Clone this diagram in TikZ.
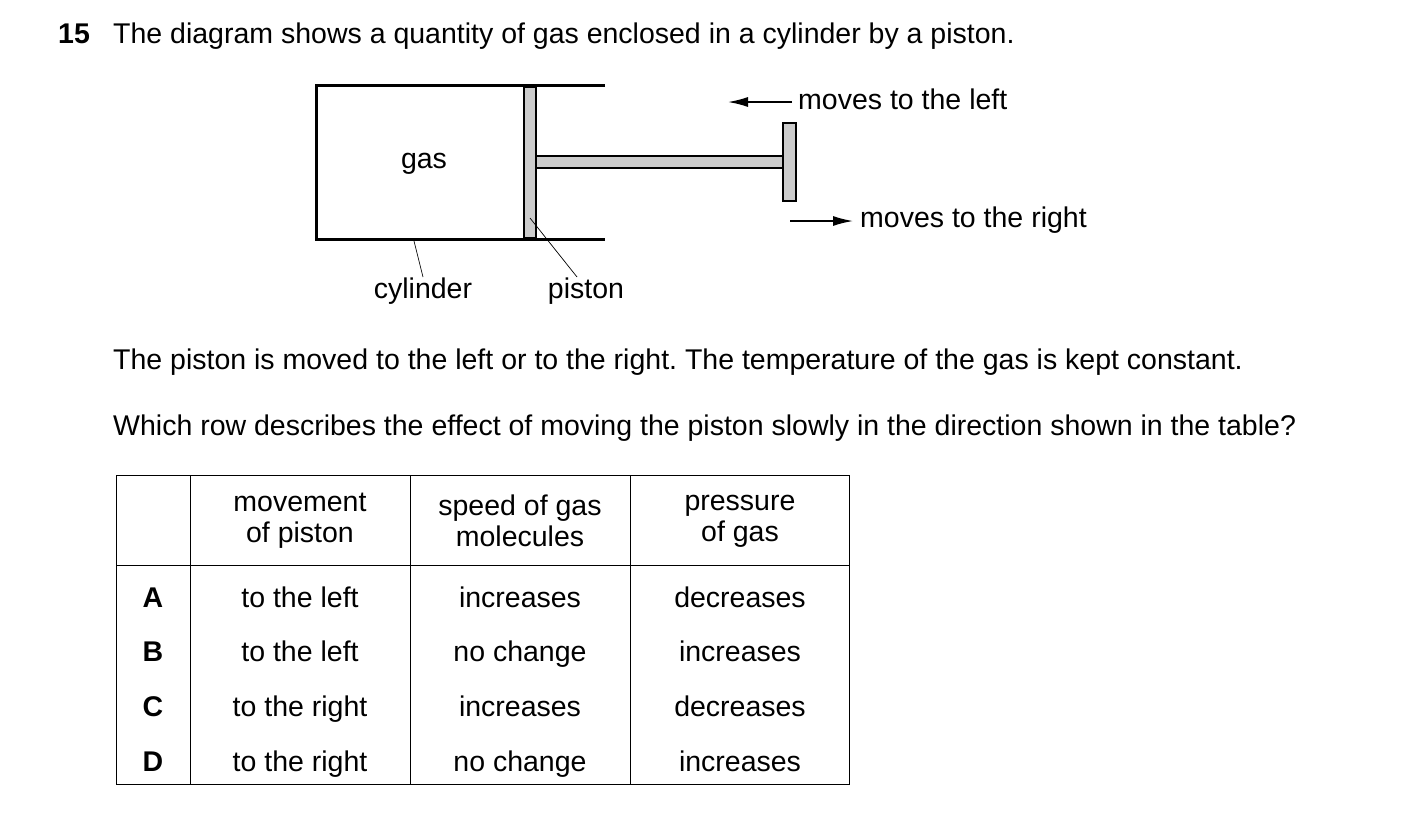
\documentclass[tikz,border=0pt]{standalone}
\usepackage{fontspec}
\setmainfont{Liberation Sans}
\usetikzlibrary{arrows.meta}
\begin{document}
\begin{tikzpicture}[x=1pt,y=-1pt,
  txt/.style={font=\fontsize{28.5}{31}\selectfont,inner sep=0pt,text height=20pt,text depth=6pt},
  wall/.style={line width=3pt},
  part/.style={draw,fill=black!20,line width=1.5pt},
  lead/.style={line width=0.7pt},
  arr/.style={line width=1.5pt,-{Latex[length=20pt,width=10pt]}}]
\useasboundingbox (0,0) rectangle (1403,836);
\node[txt,anchor=base west,font=\fontsize{28.5}{31}\selectfont\bfseries] (num) at (58,43) {15};
\node[txt,anchor=base west] (intro) at (113,43) {The diagram shows a quantity of gas enclosed in a cylinder by a piston.};
% cylinder
\draw[wall] (605,85) -- (316,85) -- (316,239) -- (605,239);
\draw[part] (524,87) rectangle (536,238);
\draw[part] (536,156) rectangle (783,168);
\draw[part] (783,123) rectangle (796,201);
\node[txt] (gas) at (424,161) {gas};
\node[txt] (cyl) at (423,291) {cylinder};
\node[txt] (pis) at (586,291) {piston};
\coordinate (c1) at (414,241); \coordinate (p1) at (530,218);
\coordinate (c2) at (423,277); \coordinate (p2) at (577,277);
\draw[lead] (c1) -- (c2);
\draw[lead] (p1) -- (p2);
\node[txt,anchor=west] (ml) at (798,102) {moves to the left};
\node[txt,anchor=west] (mr) at (860,220) {moves to the right};
\coordinate (a0) at (792,102); \coordinate (a1) at (728,102);
\coordinate (a2) at (790,221); \coordinate (a3) at (853,221);
\draw[arr] (a0) -- (a1);
\draw[arr] (a2) -- (a3);
\node[txt,anchor=base west] (t1) at (113,369) {The piston is moved to the left or to the right.\ The temperature of the gas is kept constant.};
\node[txt,anchor=base west] (t2) at (113,435) {Which row describes the effect of moving the piston slowly in the direction shown in the table?};
% table
\draw[line width=1pt] (116,475) rectangle (849,784);
\foreach \x in {190,410,630} \draw[line width=1pt] (\x,475) -- (\x,784);
\draw[line width=1pt] (116,565) -- (849,565);
\node[txt,align=center,text height=,text depth=] (h1) at (300,521) {movement\\of piston};
\node[txt,align=center,text height=,text depth=] (h2) at (520,521) {speed of gas\\molecules};
\node[txt,align=center,text height=,text depth=] (h3) at (740,521) {pressure\\of gas};
\foreach \l/\m/\s/\p/\y in {A/to the left/increases/decreases/600,B/to the left/no change/increases/654,C/to the right/increases/decreases/709,D/to the right/no change/increases/764}{
  \node[txt,font=\fontsize{28.5}{31}\selectfont\bfseries] (r\l) at (153,\y) {\l};
  \node[txt] (m\l) at (300,\y) {\m};
  \node[txt] (s\l) at (520,\y) {\s};
  \node[txt] (p\l) at (740,\y) {\p};
}
\end{tikzpicture}
\end{document}
